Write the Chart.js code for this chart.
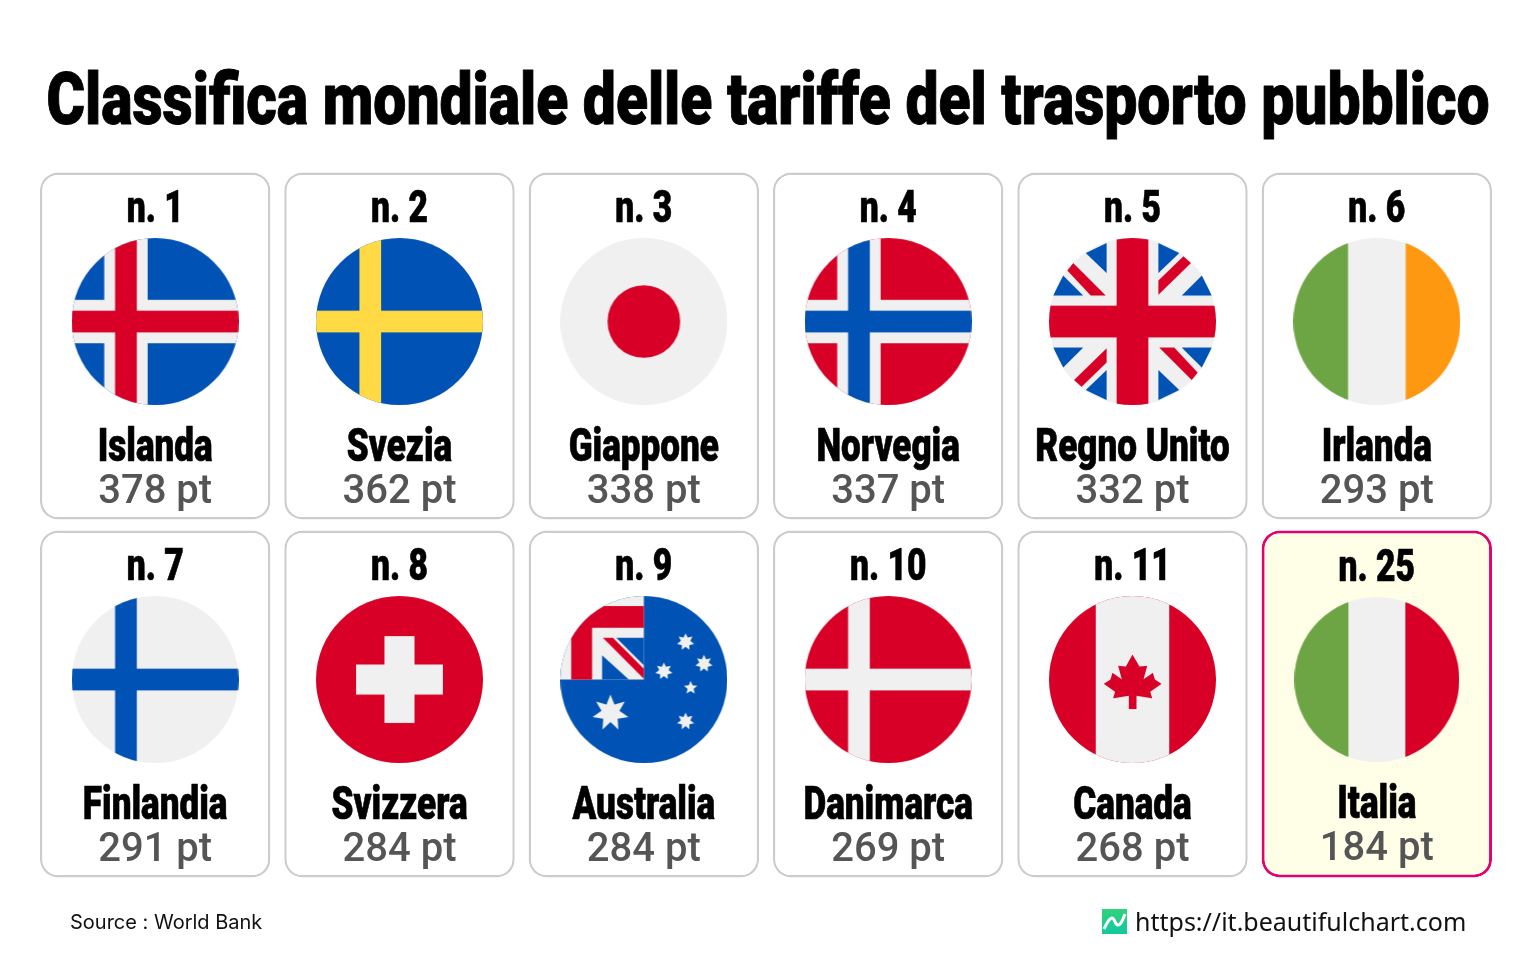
<!DOCTYPE html>
<html lang="it"><head><meta charset="utf-8">
<style>html,body{margin:0;padding:0;background:#fff}canvas{display:block}</style>
<script src="https://cdn.jsdelivr.net/npm/chart.js@4"></script>
</head><body>
<canvas id="c" width="1536" height="960" style="width:1536px;height:960px"></canvas>
<script>
const titleText = "Classifica mondiale delle tariffe del trasporto pubblico";
const sourceText = "Source : World Bank";
const urlText = "https://it.beautifulchart.com";
const ranks = [1,2,3,4,5,6,7,8,9,10,11,25];
const countries = ["Islanda","Svezia","Giappone","Norvegia","Regno Unito","Irlanda","Finlandia","Svizzera","Australia","Danimarca","Canada","Italia"];
const scores = [378,362,338,337,332,293,291,284,284,269,268,184];
const flags = ["is","se","jp","no","gb","ie","fi","ch","au","dk","ca","it"];
const columns = ["c1","c2","c3","c4","c5","c6"];
const highlighted = "Italia";

const RED="#D80027",BLUE="#0052B4",WHITE="#F0F0F0",YEL="#FFDA44",GRN="#6DA544",ORG="#FF9811";
function poly(g,c,p){g.fillStyle=c;g.beginPath();p.forEach((q,i)=>i?g.lineTo(q[0],q[1]):g.moveTo(q[0],q[1]));g.closePath();g.fill();}
function rect(g,c,x0,y0,x1,y1){g.fillStyle=c;g.fillRect(x0,y0,x1-x0,y1-y0);}
function star(g,c,x,y,r,n,k){const p=[];for(let i=0;i<2*n;i++){const a=-Math.PI/2+i*Math.PI/n,R=i%2?r*k:r;p.push([x+R*Math.cos(a),y+R*Math.sin(a)]);}poly(g,c,p);}
function nordic(g,bg,outer,inner){
  rect(g,bg,-1,-1,1,1);
  if(outer){rect(g,outer,-.61,-1,-.09,1);rect(g,outer,-1,-.26,1,.26);}
  rect(g,inner,-.48,-1,-.22,1);rect(g,inner,-1,-.13,1,.13);
}
const painters={
  is:g=>nordic(g,BLUE,WHITE,RED), se:g=>nordic(g,BLUE,null,YEL), no:g=>nordic(g,RED,WHITE,BLUE),
  fi:g=>nordic(g,WHITE,null,BLUE), dk:g=>nordic(g,RED,null,WHITE),
  jp:g=>{rect(g,WHITE,-1,-1,1,1);g.fillStyle=RED;g.beginPath();g.arc(0,0,.435,0,7);g.fill();},
  ie:g=>{rect(g,WHITE,-1,-1,1,1);rect(g,GRN,-1,-1,-.345,1);rect(g,ORG,.345,-1,1,1);},
  it:g=>{rect(g,WHITE,-1,-1,1,1);rect(g,GRN,-1,-1,-.345,1);rect(g,RED,.345,-1,1,1);},
  ch:g=>{rect(g,RED,-1,-1,1,1);rect(g,WHITE,-.52,-.18,.52,.18);rect(g,WHITE,-.18,-.52,.18,.52);},
  ca:g=>{rect(g,RED,-1,-1,1,1);rect(g,WHITE,-.44,-1,.44,1);
    const pts=[[337,388],[358,424],[381,422],[370,462],[398,443],[404,463],[424,476],[390,500],[396,519],[349,512],[349,551],[326,551],[326,512],[279,519],[285,500],[251,476],[271,463],[277,443],[305,462],[294,422],[317,424]];
    poly(g,RED,pts.map(p=>[(p[0]-337)/250,(p[1]-463)/250]));},
  gb:g=>{rect(g,WHITE,-1,-1,1,1);
    [[1,1],[-1,1],[1,-1],[-1,-1]].forEach(([a,b])=>{
      poly(g,BLUE,[[-.56*a,-.82*b],[-.31*a,-.94*b],[-.31*a,-.58*b]]);
      poly(g,BLUE,[[-.95*a,-.31*b],[-.83*a,-.55*b],[-.59*a,-.31*b]]);});
    poly(g,RED,[[-.78,-.61],[-.71,-.70],[-.32,-.31],[-.5,-.31]]);
    poly(g,RED,[[.78,.61],[.71,.70],[.32,.31],[.5,.31]]);
    poly(g,RED,[[.31,-.32],[.31,-.49],[.61,-.78],[.70,-.70]]);
    poly(g,RED,[[-.31,.32],[-.31,.49],[-.61,.78],[-.70,.70]]);
    rect(g,RED,-.19,-1,.19,1);rect(g,RED,-1,-.19,1,.19);},
  au:g=>{rect(g,BLUE,-1,-1,1,1);rect(g,WHITE,-1,-1,0,0);
    rect(g,RED,-.87,-.88,0,-.62);rect(g,RED,-.87,-.88,-.62,0);
    poly(g,BLUE,[[-.33,-.5],[0,-.5],[0,-.17]]);
    poly(g,BLUE,[[-.5,-.29],[-.5,0],[-.18,0]]);
    poly(g,RED,[[-.49,-.5],[-.37,-.5],[0,-.13],[0,-.01]]);
    star(g,WHITE,-.4,.4,.22,7,.5);
    star(g,WHITE,.5,-.45,.105,7,.55);star(g,WHITE,.72,-.19,.105,7,.55);star(g,WHITE,.24,-.10,.105,7,.55);
    star(g,WHITE,.56,.10,.085,5,.45);star(g,WHITE,.5,.5,.105,7,.55);}
};
function flagCanvas(code,diameter){
  const k=document.createElement("canvas");k.width=k.height=diameter;
  const g=k.getContext("2d");g.translate(diameter/2,diameter/2);g.scale(diameter/2,diameter/2);
  g.beginPath();g.arc(0,0,1,0,Math.PI*2);g.clip();painters[code](g);return k;
}
const FLAG_OFFSET=.4316, INSET=.0154;
const rowOf=i=>Math.floor(i/6), colOf=i=>i%6;
const isHi=i=>countries[i]===highlighted;
const cardData=r=>columns.map(()=>[r+INSET,r+1-INSET]);

const textPlugin={id:"cardText",afterDatasetsDraw(ch){
  const g=ch.ctx,x=ch.scales.x,y=ch.scales.y;
  const HEAVY='Roboto';
  function width(s,font){g.save();g.font=font;const w=g.measureText(s).width;g.restore();return w;}
  function t(s,px,py,font,color,align,sx,stroke){
    g.save();g.font=font;g.fillStyle=color;g.textAlign=align||"center";g.textBaseline="alphabetic";
    g.translate(px,py);g.scale(sx||1,1);g.fillText(s,0,0);
    if(stroke){g.strokeStyle=color;g.lineWidth=stroke;g.lineJoin="round";g.strokeText(s,0,0);}
    g.restore();
  }
  const titleFont=`900 73px ${HEAVY}`, rankFont=`900 45px ${HEAVY}`, nameFont=`900 46px ${HEAVY}`;
  t(titleText,768,124,titleFont,"#000","center",1443/width(titleText,titleFont),1);
  const rankSx=57/width("n. 1",rankFont), nameSx=115/width("Islanda",nameFont);
  ranks.forEach((rk,i)=>{
    const cx=x.getPixelForValue(colOf(i)),top=y.getPixelForValue(rowOf(i));
    const hi=isHi(i)?1:0;
    t("n. "+rk,cx,top+55+hi*.5,rankFont,"#000","center",rankSx,.7);
    t(countries[i],cx,top+294-hi,nameFont,"#000","center",nameSx,.7);
    t(scores[i]+" pt",cx,top+336-hi,`500 40px Roboto`,"#555","center");
  });
  t(sourceText,70,929,`400 20px Inter`,"#111","left");
  t(urlText,1135,931,`400 25px "Noto Sans"`,"#111","left");
  const lg=g.createLinearGradient(0,909,0,934);lg.addColorStop(0,"#33d17a");lg.addColorStop(1,"#10c9a0");
  g.fillStyle=lg;g.fillRect(1102,909,25,25);
  g.strokeStyle="#fff";g.lineWidth=3;g.beginPath();g.moveTo(1104,929);g.bezierCurveTo(1110,916,1113,916,1115,922);g.bezierCurveTo(1118,928,1121,925,1125,914);g.stroke();
}};

new Chart(document.getElementById("c"),{
  type:"bar",
  data:{labels:columns,datasets:[
    {type:"line",showLine:false,label:"flags",order:0,clip:false,
     data:ranks.map((r,i)=>({x:columns[colOf(i)],y:rowOf(i)+FLAG_OFFSET})),
     pointStyle:flags.map((f,i)=>flagCanvas(f,isHi(i)?165:167)),pointRadius:1,pointBorderWidth:0},
    {label:"row 1",order:1,grouped:false,data:cardData(0),
     backgroundColor:"#fff",borderColor:"#CCCCCC",borderWidth:2.4,borderSkipped:false,borderRadius:18},
    {label:"row 2",order:1,grouped:false,data:cardData(1),
     backgroundColor:countries.slice(6).map(c=>c===highlighted?"#FFFFE8":"#fff"),
     borderColor:countries.slice(6).map(c=>c===highlighted?"#E6006E":"#CCCCCC"),
     borderWidth:countries.slice(6).map(c=>c===highlighted?3:2.4),borderSkipped:false,borderRadius:18}
  ]},
  plugins:[textPlugin],
  options:{responsive:false,animation:false,devicePixelRatio:1,
    layout:{padding:{left:33,right:37,top:167,bottom:77}},
    events:[],
    datasets:{bar:{categoryPercentage:.943,barPercentage:1}},
    plugins:{legend:{display:false},tooltip:{enabled:false},title:{display:false}},
    scales:{
      x:{type:"category",display:false,grid:{display:false}},
      y:{type:"linear",display:false,reverse:true,min:0,max:2,grid:{display:false}}
    }}
});
</script></body></html>
